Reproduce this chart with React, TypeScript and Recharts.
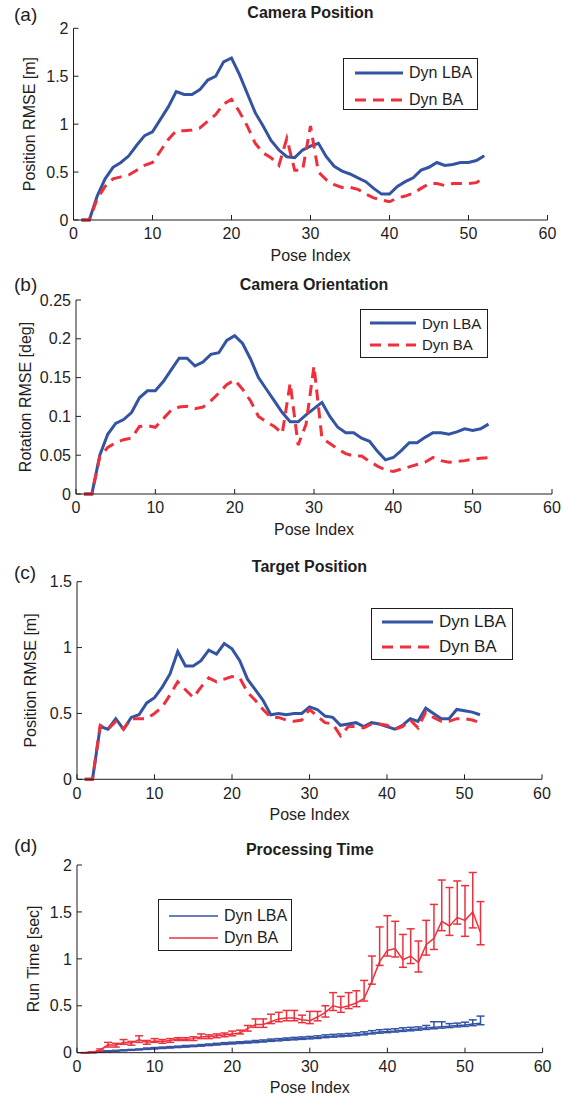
import React from 'react';
import { LineChart, Line, XAxis, YAxis, Legend, ErrorBar } from 'recharts';

// pose index shared by all four panels
const poseIndex = [
  1, 2, 3, 4, 5, 6, 7, 8, 9, 10, 11, 12, 13, 14, 15, 16, 17, 18, 19, 20, 21, 22, 23, 24, 25, 26,
  27, 28, 29, 30, 31, 32, 33, 34, 35, 36, 37, 38, 39, 40, 41, 42, 43, 44, 45, 46, 47, 48, 49, 50, 51, 52,
];
const xTicks = [0, 10, 20, 30, 40, 50, 60];

// (a) camera position RMSE [m]
const camPosLba = [
  0, 0, 0.25, 0.43, 0.55, 0.6, 0.67, 0.78, 0.88, 0.92,
  1.05, 1.18, 1.34, 1.31, 1.31, 1.36, 1.46, 1.5, 1.65, 1.69,
  1.52, 1.32, 1.12, 0.98, 0.83, 0.73, 0.66, 0.65, 0.73, 0.77,
  0.8, 0.66, 0.56, 0.51, 0.48, 0.44, 0.4, 0.33, 0.27, 0.27,
  0.35, 0.4, 0.44, 0.52, 0.55, 0.6, 0.57, 0.58, 0.6, 0.6,
  0.62, 0.67,
];
const camPosBa = [
  0, 0, 0.22, 0.35, 0.43, 0.45, 0.47, 0.52, 0.57, 0.6,
  0.72, 0.84, 0.93, 0.93, 0.94, 0.96, 1.03, 1.1, 1.21, 1.26,
  1.13, 0.98, 0.8, 0.7, 0.65, 0.57, 0.85, 0.52, 0.52, 0.98,
  0.5, 0.42, 0.37, 0.34, 0.34, 0.32, 0.27, 0.23, 0.21, 0.19,
  0.23, 0.25, 0.28, 0.33, 0.38, 0.38, 0.36, 0.38, 0.38, 0.38,
  0.39, 0.44,
];
const camPosTicks = [0, 0.5, 1, 1.5, 2];

// (b) camera orientation RMSE [deg]
const camRotLba = [
  0, 0, 0.05, 0.077, 0.091, 0.096, 0.105, 0.124, 0.133, 0.133,
  0.145, 0.16, 0.175, 0.175, 0.165, 0.17, 0.18, 0.182, 0.198, 0.204,
  0.194, 0.174, 0.15, 0.135, 0.12, 0.105, 0.093, 0.093, 0.102, 0.11,
  0.118, 0.1, 0.086, 0.079, 0.079, 0.072, 0.068, 0.055, 0.044, 0.047,
  0.056, 0.066, 0.066, 0.073, 0.079, 0.079, 0.077, 0.08, 0.084, 0.082,
  0.084, 0.09,
];
const camRotBa = [
  0, 0, 0.048, 0.06, 0.066, 0.07, 0.072, 0.087, 0.088, 0.086,
  0.097, 0.108, 0.112, 0.113, 0.11, 0.112, 0.12, 0.13, 0.141, 0.147,
  0.135, 0.12, 0.1, 0.093, 0.087, 0.078, 0.143, 0.063, 0.09, 0.165,
  0.072, 0.065, 0.058, 0.052, 0.049, 0.049, 0.042, 0.036, 0.031, 0.029,
  0.032, 0.035, 0.038, 0.041, 0.047, 0.043, 0.041, 0.042, 0.043, 0.045,
  0.046, 0.047,
];
const camRotTicks = [0, 0.05, 0.1, 0.15, 0.2, 0.25];

// (c) target position RMSE [m]
const tgtPosLba = [
  0, 0, 0.4, 0.38, 0.46, 0.38, 0.47, 0.49, 0.58, 0.62,
  0.7, 0.8, 0.97, 0.86, 0.86, 0.9, 0.98, 0.95, 1.03, 0.99,
  0.9, 0.76, 0.68, 0.6, 0.49, 0.5, 0.49, 0.5, 0.5, 0.55,
  0.53, 0.48, 0.47, 0.41, 0.42, 0.43, 0.4, 0.43, 0.42, 0.4,
  0.38, 0.41, 0.46, 0.44, 0.54, 0.5, 0.46, 0.46, 0.53, 0.52,
  0.51, 0.49,
];
const tgtPosBa = [
  0, 0, 0.41, 0.38, 0.44, 0.38, 0.46, 0.46, 0.46, 0.5,
  0.55, 0.64, 0.74, 0.68, 0.62, 0.7, 0.77, 0.74, 0.76, 0.78,
  0.77, 0.66, 0.6, 0.53, 0.47, 0.47, 0.45, 0.44, 0.45, 0.53,
  0.48, 0.43, 0.42, 0.33, 0.4, 0.4, 0.39, 0.42, 0.42, 0.41,
  0.38, 0.4, 0.45, 0.39, 0.51, 0.47, 0.44, 0.44, 0.46, 0.46,
  0.45, 0.43,
];
const tgtPosTicks = [0, 0.5, 1, 1.5];

// (d) processing time [sec], mean with lower / upper bar ends
const timeLba = [
  0, 0.005, 0.01, 0.015, 0.02, 0.025, 0.03, 0.035, 0.04, 0.045,
  0.05, 0.055, 0.06, 0.066, 0.07, 0.076, 0.082, 0.088, 0.095, 0.1,
  0.105, 0.11, 0.116, 0.122, 0.13, 0.135, 0.142, 0.147, 0.152, 0.157,
  0.162, 0.17, 0.176, 0.181, 0.186, 0.192, 0.2, 0.21, 0.22, 0.226,
  0.232, 0.24, 0.246, 0.252, 0.262, 0.27, 0.276, 0.282, 0.29, 0.296,
  0.305, 0.315,
];
const timeLbaLo = [
  0, 0, 0.005, 0.01, 0.015, 0.02, 0.025, 0.03, 0.035, 0.04,
  0.045, 0.05, 0.055, 0.06, 0.065, 0.07, 0.076, 0.082, 0.088, 0.093,
  0.098, 0.103, 0.108, 0.114, 0.121, 0.126, 0.132, 0.137, 0.142, 0.147,
  0.152, 0.16, 0.166, 0.171, 0.176, 0.182, 0.19, 0.2, 0.208, 0.214,
  0.22, 0.227, 0.233, 0.24, 0.248, 0.255, 0.262, 0.268, 0.275, 0.28,
  0.288, 0.298,
];
const timeLbaHi = [
  0, 0.01, 0.015, 0.02, 0.025, 0.03, 0.035, 0.04, 0.05, 0.055,
  0.06, 0.065, 0.07, 0.077, 0.08, 0.087, 0.093, 0.1, 0.107, 0.112,
  0.117, 0.122, 0.13, 0.136, 0.145, 0.15, 0.157, 0.163, 0.168, 0.173,
  0.18, 0.19, 0.195, 0.2, 0.205, 0.212, 0.222, 0.235, 0.245, 0.25,
  0.255, 0.265, 0.27, 0.275, 0.29, 0.33, 0.33, 0.31, 0.315, 0.325,
  0.35, 0.39,
];
const timeBa = [
  0, 0.005, 0.03, 0.085, 0.08, 0.11, 0.1, 0.14, 0.11, 0.125,
  0.12, 0.13, 0.145, 0.14, 0.15, 0.17, 0.17, 0.18, 0.19, 0.2,
  0.21, 0.26, 0.3, 0.3, 0.33, 0.36, 0.37, 0.37, 0.35, 0.34,
  0.38, 0.43, 0.5, 0.48, 0.5, 0.53, 0.58, 0.76, 0.97, 1.09,
  1.11, 0.99, 1.03, 0.96, 1.15, 1.22, 1.4, 1.35, 1.44, 1.41,
  1.5, 1.28,
];
const timeBaLo = [
  0, 0, 0.02, 0.06, 0.06, 0.09, 0.08, 0.11, 0.09, 0.11,
  0.1, 0.11, 0.13, 0.13, 0.13, 0.15, 0.15, 0.16, 0.17, 0.18,
  0.2, 0.23, 0.27, 0.27, 0.31, 0.33, 0.34, 0.34, 0.32, 0.31,
  0.34, 0.38, 0.45, 0.43, 0.47, 0.49, 0.55, 0.73, 0.93, 1.03,
  1.02, 0.91, 0.95, 0.86, 1.04, 1.1, 1.3, 1.25, 1.37, 1.24,
  1.33, 1.15,
];
const timeBaHi = [
  0, 0.01, 0.04, 0.11, 0.1, 0.14, 0.12, 0.18, 0.13, 0.15,
  0.14, 0.15, 0.16, 0.16, 0.17, 0.2, 0.19, 0.2, 0.21, 0.23,
  0.24, 0.29, 0.36, 0.36, 0.41, 0.43, 0.45, 0.45, 0.4, 0.44,
  0.44, 0.5, 0.64, 0.6, 0.64, 0.66, 0.77, 1.03, 1.34, 1.46,
  1.4, 1.26, 1.32, 1.19, 1.41, 1.58, 1.84, 1.76, 1.83, 1.78,
  1.92, 1.61,
];
const timeTicks = [0, 0.5, 1, 1.5, 2];

const W = 564;
const FONT = '"Liberation Sans", Arial, Helvetica, sans-serif';
const BLUE = '#3353a3';
const RED = '#ee303c';
const INK = '#1e1e1e';

const rows = poseIndex.map((x, i) => ({
  x,
  posLba: camPosLba[i],
  posBa: camPosBa[i],
  rotLba: camRotLba[i],
  rotBa: camRotBa[i],
  tgtLba: tgtPosLba[i],
  tgtBa: tgtPosBa[i],
  tLba: timeLba[i],
  tBa: timeBa[i],
  tLbaErr: [timeLba[i] - timeLbaLo[i], timeLbaHi[i] - timeLba[i]],
  tBaErr: [timeBa[i] - timeBaLo[i], timeBaHi[i] - timeBa[i]],
}));

type Series = { key: string; name: string; color: string; width: number; dash?: string; err?: string };

const thick = (lba: string, ba: string): Series[] => [
  { key: lba, name: 'Dyn LBA', color: BLUE, width: 3 },
  { key: ba, name: 'Dyn BA', color: RED, width: 3, dash: '11 7' },
];

const panels = [
  {
    letter: '(a)', title: 'Camera Position', yLabel: 'Position RMSE [m]',
    top: 0, height: 270, box: { l: 73.5, r: 547.5, t: 28.3, b: 220 },
    titleY: 12.7, letterY: 15.7, yLabelX: 29, yMax: 2, yTicks: camPosTicks,
    legend: { left: 343, top: 58.3, w: 135, h: 52, fs: 16, lineLen: 48, padL: 11, rowH: 26.7, padTop: 0.7 },
    series: thick('posLba', 'posBa'),
  },
  {
    letter: '(b)', title: 'Camera Orientation', yLabel: 'Rotation RMSE [deg]',
    top: 270, height: 280, box: { l: 76, r: 552, t: 30, b: 224 },
    titleY: 15, letterY: 15.8, yLabelX: 25.3, yMax: 0.25, yTicks: camRotTicks,
    legend: { left: 360, top: 39.3, w: 128, h: 49, fs: 15, lineLen: 46, padL: 9, rowH: 21.7, padTop: 2 },
    series: thick('rotLba', 'rotBa'),
  },
  {
    letter: '(c)', title: 'Target Position', yLabel: 'Position RMSE [m]',
    top: 550, height: 280, box: { l: 77, r: 542, t: 31.7, b: 229.3 },
    titleY: 16.7, letterY: 24, yLabelX: 30.7, yMax: 1.5, yTicks: tgtPosTicks,
    legend: { left: 371, top: 57.7, w: 142, h: 52.3, fs: 17, lineLen: 51, padL: 10, rowH: 25, padTop: 0.5 },
    series: thick('tgtLba', 'tgtBa'),
  },
  {
    letter: '(d)', title: 'Processing Time', yLabel: 'Run Time [sec]',
    top: 830, height: 269, box: { l: 77, r: 542.6, t: 35, b: 222.7 },
    titleY: 20, letterY: 16.7, yLabelX: 33, yMax: 2, yTicks: timeTicks,
    legend: { left: 158, top: 69.3, w: 134, h: 51.7, fs: 16, lineLen: 49, padL: 10, rowH: 22.3, padTop: 4.5 },
    series: [
      { key: 'tLba', name: 'Dyn LBA', color: BLUE, width: 1.5, err: 'tLbaErr' },
      { key: 'tBa', name: 'Dyn BA', color: RED, width: 1.5, err: 'tBaErr' },
    ] as Series[],
  },
];

const LegendBox = ({ lg, series }: { lg: any; series: Series[] }) => (
  <div
    style={{
      boxSizing: 'border-box', width: lg.w, height: lg.h, paddingTop: lg.padTop, paddingLeft: lg.padL,
      border: `1.5px solid ${INK}`, background: '#fff', fontFamily: FONT, fontSize: lg.fs, color: INK,
    }}
  >
    {series.map((s) => (
      <div key={s.key} style={{ display: 'flex', alignItems: 'center', height: lg.rowH }}>
        <svg width={lg.lineLen} height={8} style={{ marginRight: 6 }}>
          <line x1={0} y1={4} x2={lg.lineLen} y2={4} stroke={s.color} strokeWidth={s.width} strokeDasharray={s.dash} />
        </svg>
        <span>{s.name}</span>
      </div>
    ))}
  </div>
);

const Panel = ({ p }: { p: (typeof panels)[number] }) => {
  const { box } = p;
  const axisH = p.height - box.b;
  const ax = { stroke: INK, strokeWidth: 1 };
  const tk = { fill: INK, fontSize: 16 };
  return (
    <div style={{ position: 'absolute', left: 0, top: p.top, width: W, height: p.height }}>
      <div style={{ position: 'absolute', left: 14, top: p.letterY - 0.587 * 19, fontSize: 19, lineHeight: 1 }}>
        {p.letter}
      </div>
      <div
        style={{
          position: 'absolute', left: box.l, width: box.r - box.l, top: p.titleY - 0.49 * 16,
          textAlign: 'center', fontWeight: 'bold', fontSize: 16, lineHeight: 1,
        }}
      >
        {p.title}
      </div>
      <LineChart width={W} height={p.height} data={rows} margin={{ top: box.t, right: W - box.r, bottom: 0, left: 0 }}>
        <XAxis
          dataKey="x" type="number" domain={[0, 60]} ticks={xTicks} height={axisH}
          tickSize={-5} tickMargin={13} tick={tk} axisLine={ax} tickLine={ax}
          label={{ value: 'Pose Index', position: 'insideBottom', offset: axisH - 40.7, fill: INK, fontSize: 16 }}
        />
        <XAxis
          xAxisId="top" orientation="top" dataKey="x" type="number" domain={[0, 60]} ticks={xTicks}
          height={0} tickSize={-5} tick={false} axisLine={ax} tickLine={ax}
        />
        <YAxis
          type="number" domain={[0, p.yMax]} ticks={p.yTicks} width={box.l}
          tickSize={-5} tickMargin={10} tick={tk} axisLine={ax} tickLine={ax}
          label={{
            value: p.yLabel, angle: -90, position: 'insideLeft', offset: p.yLabelX,
            fill: INK, fontSize: 16, style: { textAnchor: 'middle' },
          }}
        />
        <YAxis
          yAxisId="right" orientation="right" type="number" domain={[0, p.yMax]} ticks={p.yTicks}
          width={0} tickSize={-5} tick={false} axisLine={ax} tickLine={ax}
        />
        {p.series.map((s) => (
          <Line
            key={s.key} dataKey={s.key} name={s.name} type="linear" stroke={s.color} strokeWidth={s.width}
            strokeDasharray={s.dash} dot={false} activeDot={false} isAnimationActive={false}
          >
            {s.err && (
              <ErrorBar dataKey={s.err} direction="y" width={4} stroke={s.color} strokeWidth={1.5} isAnimationActive={false} />
            )}
          </Line>
        ))}
        <Legend
          layout="vertical" align="center" verticalAlign="middle"
          wrapperStyle={{ left: p.legend.left, top: p.legend.top, width: p.legend.w, height: p.legend.h }}
          content={() => <LegendBox lg={p.legend} series={p.series} />}
        />
      </LineChart>
    </div>
  );
};

export default function App() {
  return (
    <div
      style={{
        position: 'absolute', left: 0, top: 0, width: W, height: 1099, background: '#fff',
        fontFamily: FONT, color: INK, overflow: 'hidden',
      }}
    >
      {panels.map((p) => (
        <Panel key={p.letter} p={p} />
      ))}
    </div>
  );
}
